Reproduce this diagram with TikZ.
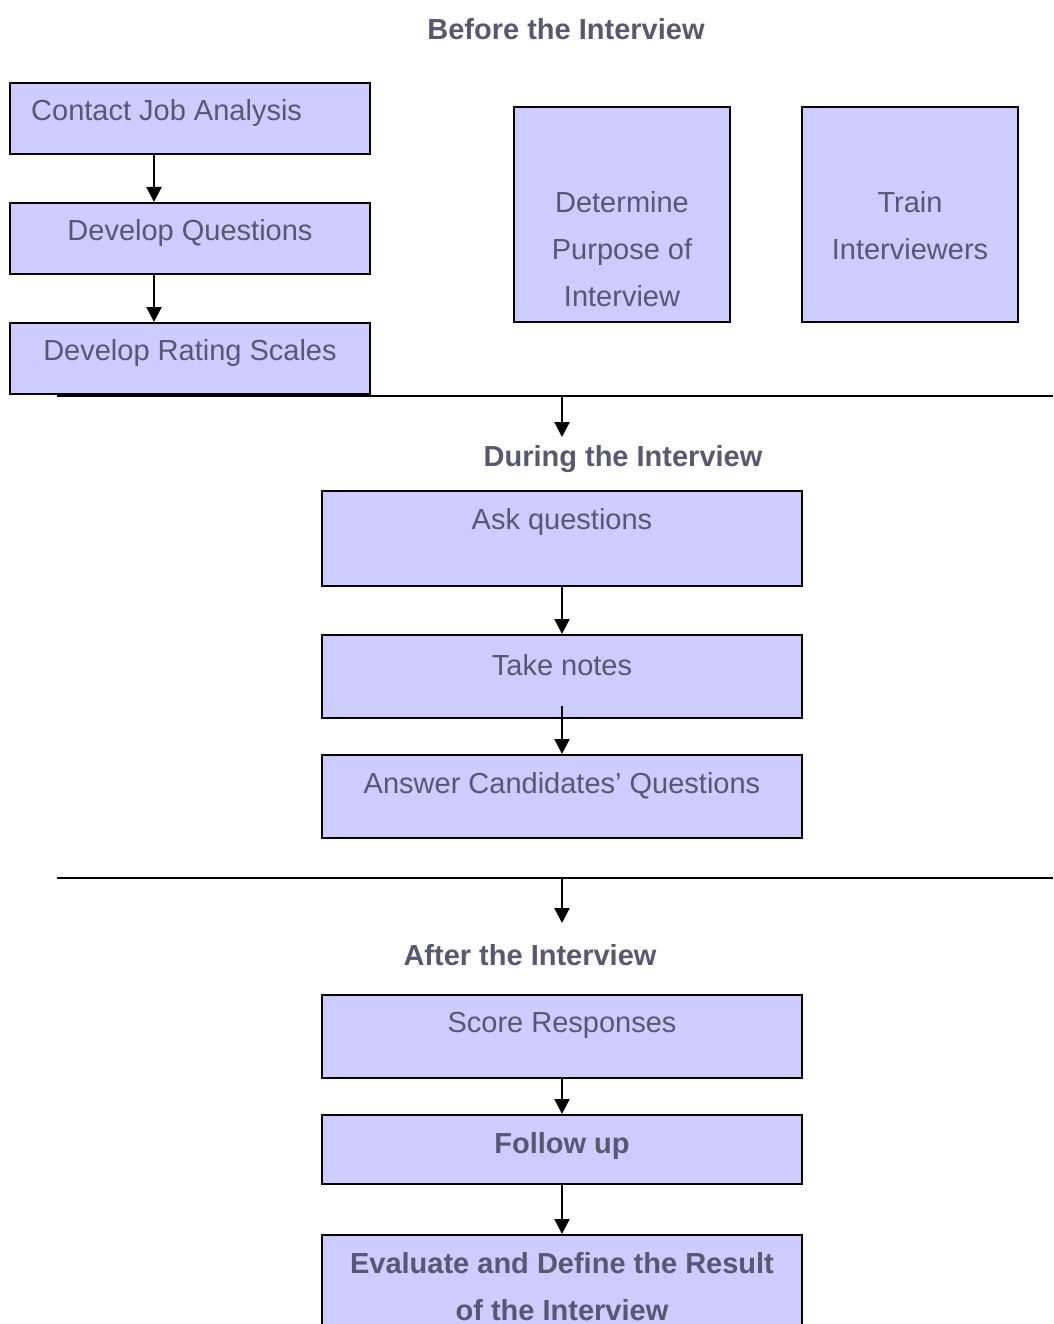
\documentclass[tikz,border=0pt]{standalone}
\usepackage{fontspec}
\setmainfont{Liberation Sans}
\usepackage{tikz}
\usetikzlibrary{arrows.meta, positioning, calc}
\definecolor{boxfill}{RGB}{204,204,255}
\definecolor{txtgray}{RGB}{88,88,112}

\tikzset{
    stagebox/.style={draw=black, fill=boxfill, line width=2pt, minimum width=480pt, minimum height=83pt, inner sep=0pt},
    leftbox/.style={stagebox, minimum width=360pt, minimum height=71pt},
    tallbox/.style={stagebox, minimum width=216pt, minimum height=215pt},
    txt/.style={text=txtgray, font=\fontsize{29pt}{47pt}\selectfont, align=center, inner sep=0pt},
    head/.style={txt, font=\fontsize{29pt}{47pt}\selectfont\bfseries},
    flow/.style={line width=2.2pt, -{Triangle[length=15pt,width=15pt]}},
    rule/.style={line width=2pt}
}

\begin{document}
\begin{tikzpicture}[x=1pt, y=-1pt]
    \clip (0,0) rectangle (1053,1324);

    % before the interview
    \node[head] (before) at (566,29) {Before the Interview};
    \node[leftbox] (cja) at (190,118.5) {};
    \node[leftbox] (dq) at (190,238.5) {};
    \node[leftbox] (drs) at (190,358.5) {};
    \node[txt, anchor=west] at ([yshift=-31.5pt]cja.north west -| 31,0) {Contact Job Analysis};
    \node[txt] at ([yshift=-31.5pt]dq.north) {Develop Questions};
    \node[txt] at ([yshift=-31.5pt]drs.north) {Develop Rating Scales};
    \node[tallbox] (purpose) at (622,214.5) {};
    \node[txt] at (622,249) {Determine\\Purpose of\\Interview};
    \node[tallbox] (train) at (910,214.5) {};
    \node[txt] at (910,225.5) {Train\\Interviewers};
    \draw[flow] (cja.south -| 154,0) -- (dq.north -| 154,0);
    \draw[flow] (dq.south -| 154,0) -- (drs.north -| 154,0);

    \draw[rule] (57,396) -- (1053,396);
    \coordinate (r1) at (562,396);
    \coordinate (r1end) at (562,437);
    \draw[flow] (r1) -- (r1end);

    % during the interview
    \node[head] (during) at (623,459) {During the Interview};
    \node[stagebox, minimum height=95pt] (ask) at (562,538.5) {};
    \node[txt] at ([yshift=-31.5pt]ask.north) {Ask questions};
    \node[stagebox] (notes) at (562,676.5) {};
    \node[txt] at ([yshift=-31.5pt]notes.north) {Take notes};
    \node[stagebox] (answer) at (562,796.5) {};
    \node[txt] at ([yshift=-31.5pt]answer.north) {Answer Candidates’ Questions};
    \coordinate (n1) at (562,706);
    \draw[flow] (ask) -- (notes);
    \draw[flow] (n1) -- (answer);

    \draw[rule] (57,878) -- (1053,878);
    \coordinate (r2) at (562,878);
    \coordinate (r2end) at (562,923);
    \draw[flow] (r2) -- (r2end);

    % after the interview
    \node[head] (after) at (530,955) {After the Interview};
    \node[stagebox] (score) at (562,1036.5) {};
    \node[txt] at ([yshift=-31.5pt]score.north) {Score Responses};
    \node[stagebox, minimum height=69pt] (follow) at (562,1149.5) {};
    \node[head] at ([yshift=-31.5pt]follow.north) {Follow up};
    \node[stagebox, minimum height=130pt] (evaluate) at (562,1300) {};
    \node[head] at ([yshift=-53pt]evaluate.north) {Evaluate and Define the Result\\of the Interview};
    \draw[flow] (score) -- (follow);
    \draw[flow] (follow) -- (evaluate);
\end{tikzpicture}
\end{document}
